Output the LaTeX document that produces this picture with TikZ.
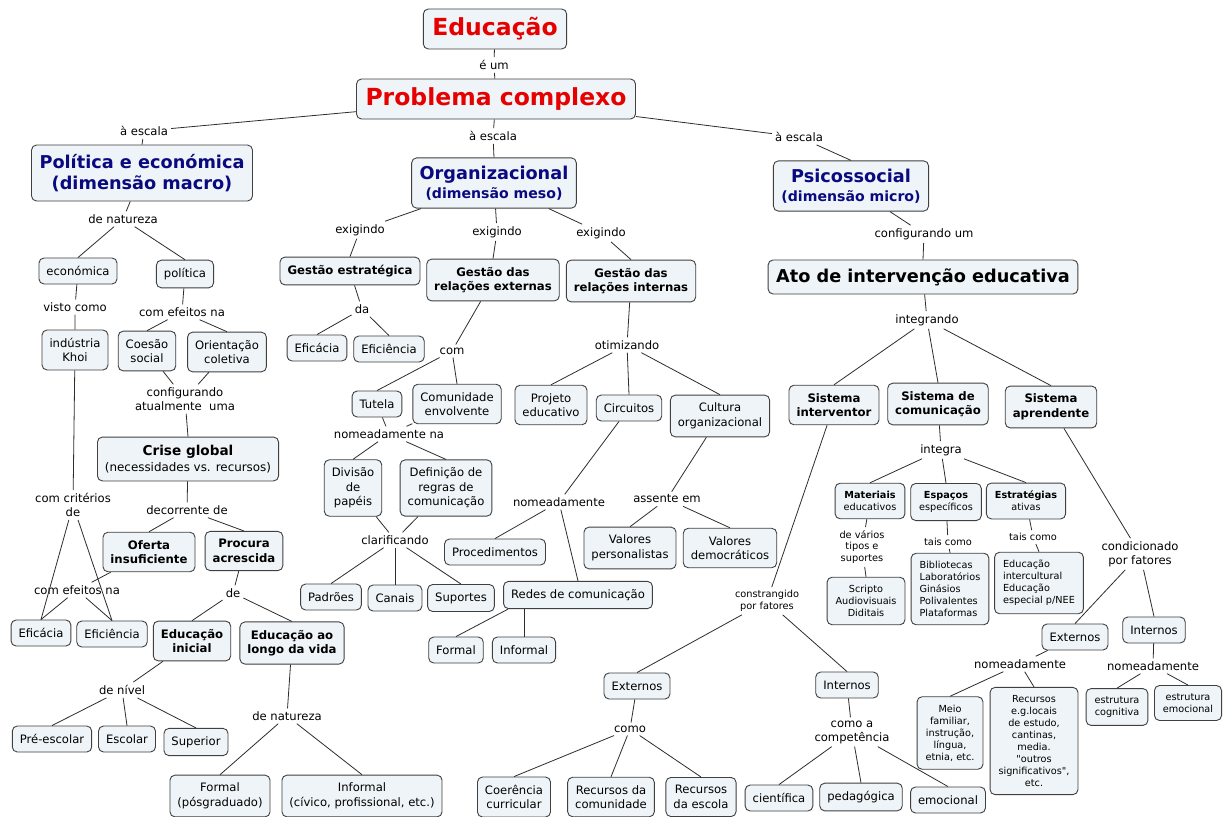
\documentclass[tikz,border=0pt]{standalone}
\usepackage{fontspec}
\setmainfont{DejaVu Sans}[Ligatures=TeXOff]
\definecolor{boxfill}{RGB}{238,244,247}
\definecolor{boxline}{RGB}{64,64,64}
\definecolor{linkgray}{RGB}{45,45,45}
\definecolor{headblue}{RGB}{10,10,128}
\definecolor{topred}{RGB}{230,0,0}
\begin{document}
\begin{tikzpicture}[x=1pt, y=-1pt,
	box/.style = {draw=boxline, fill=boxfill, line width=0.9pt, rounded corners=5pt, align=center, inner xsep=7.5pt, inner ysep=8pt, minimum height=26pt, font=\fontsize{11.6}{14.5}\selectfont},
	bbox/.style = {box, font=\bfseries\fontsize{11.7}{14.5}\selectfont},
	sbox/.style = {box, inner xsep=8.5pt, inner ysep=8pt, font=\fontsize{9.7}{12}\selectfont},
	head/.style = {box, inner xsep=8pt, text=headblue, font=\bfseries\fontsize{17.7}{21.7}\selectfont},
	topbox/.style = {box, inner xsep=9pt, inner ysep=4pt, minimum height=40pt, text=topred, font=\bfseries\fontsize{23.5}{28}\selectfont},
	lab/.style = {inner sep=3pt, align=center, font=\fontsize{11.6}{14}\selectfont},
	slab/.style = {lab, font=\fontsize{9.8}{11.8}\selectfont},
	link/.style = {draw=linkgray, line width=0.8pt}]
	\fill[white] (0,0) rectangle (1230,816);
	\useasboundingbox (0,0) rectangle (1230,816);
	% Conceitos
	\node[topbox] (educ) at (495,29) {Educação};
	\node[lab] (eum) at (494,65) {é um};
	\node[topbox] (prob) at (496,99) {Problema complexo};
	\node[lab] (escL) at (144,131) {à escala};
	\node[lab] (escM) at (493,136) {à escala};
	\node[lab] (escR) at (799,137) {à escala};
	\node[head, minimum height=56pt] (pol) at (142,173) {Política e económica\\(dimensão macro)};
	\node[head, minimum height=50pt, font=\bfseries\fontsize{17.7}{19}\selectfont] (org) at (494,183) {Organizacional\\{\fontsize{14.1}{19}\selectfont(dimensão meso)}};
	\node[head, minimum height=50pt, font=\bfseries\fontsize{17.7}{19}\selectfont] (psi) at (851,186) {Psicossocial\\{\fontsize{14.1}{19}\selectfont(dimensão micro)}};
	% dimensão macro
	\node[lab] (natL) at (123,219) {de natureza};
	\node[box] (econ) at (78,271) {económica};
	\node[box] (poli) at (185,274) {política};
	\node[lab] (visto) at (75,307) {visto como};
	\node[box] (khoi) at (75,350) {indústria\\Khoi};
	\node[lab] (efeitosA) at (182,312) {com efeitos na};
	\node[box] (coesao) at (147,351) {Coesão\\social};
	\node[box] (orient) at (227,352) {Orientação\\coletiva};
	\node[lab] (config) at (185,399) {configurando\\atualmente\ \ uma};
	\node[box, font=\fontsize{11.9}{16}\selectfont] (crise) at (188,459) {{\bfseries\fontsize{13.6}{16}\selectfont Crise global}\\(necessidades vs. recursos)};
	\node[lab] (decor) at (187,510) {decorrente de};
	\node[bbox] (oferta) at (149,552) {Oferta\\insuficiente};
	\node[bbox] (procura) at (244,551) {Procura\\acrescida};
	\node[lab] (criter) at (73,505) {com critérios\\de};
	\node[lab] (efeitosB) at (77,590) {com efeitos na};
	\node[lab] (deA) at (233,593) {de};
	\node[box] (eficaciaA) at (41,633) {Eficácia};
	\node[box] (eficienA) at (112,634) {Eficiência};
	\node[bbox] (einicial) at (192,641) {Educação\\inicial};
	\node[bbox] (elonga) at (292,643) {Educação ao\\longo da vida};
	\node[lab] (nivel) at (122,690) {de nível};
	\node[box] (preesc) at (52,739) {Pré-escolar};
	\node[box] (escolar) at (127,739) {Escolar};
	\node[box] (superior) at (196,742) {Superior};
	\node[lab] (natB) at (287,716) {de natureza};
	\node[box] (formalA) at (220,796) {Formal\\(pósgraduado)};
	\node[box] (informalA) at (362,796) {Informal\\(cívico, profissional, etc.)};
	% dimensão meso
	\node[lab] (exigA) at (360,230) {exigindo};
	\node[lab] (exigB) at (497,232) {exigindo};
	\node[lab] (exigC) at (601,233) {exigindo};
	\node[bbox] (gestest) at (350,271) {Gestão estratégica};
	\node[bbox] (gestext) at (493,280) {Gestão das\\relações externas};
	\node[bbox] (gestint) at (631,281) {Gestão das\\relações internas};
	\node[lab] (da) at (362,309) {da};
	\node[box] (eficaciaB) at (317,348) {Eficácia};
	\node[box] (eficienB) at (389,349) {Eficiência};
	\node[lab] (com) at (452,351) {com};
	\node[box] (tutela) at (377,404) {Tutela};
	\node[box] (comunid) at (457,404) {Comunidade\\envolvente};
	\node[lab] (nomeA) at (389,434) {nomeadamente na};
	\node[box] (divisao) at (353,488) {Divisão\\de\\papéis};
	\node[box] (definic) at (446,488) {Definição de\\regras de\\comunicação};
	\node[lab] (clarif) at (395,540) {clarificando};
	\node[box] (padroes) at (331,597) {Padrões};
	\node[box] (canais) at (395,598) {Canais};
	\node[box] (suportes) at (461,598) {Suportes};
	\node[lab] (otimiz) at (627,345) {otimizando};
	\node[box] (projeto) at (551,405) {Projeto\\educativo};
	\node[box] (circuit) at (629,408) {Circuitos};
	\node[box] (cultura) at (720,416) {Cultura\\organizacional};
	\node[lab] (nomeB) at (559,502) {nomeadamente};
	\node[box] (proced) at (495,552) {Procedimentos};
	\node[box] (redes) at (578,595) {Redes de comunicação};
	\node[box] (formalB) at (456,650) {Formal};
	\node[box] (informalB) at (524,650) {Informal};
	\node[lab] (assente) at (667,499) {assente em};
	\node[box] (valpers) at (630,548) {Valores\\personalistas};
	\node[box] (valdemo) at (730,548) {Valores\\democráticos};
	% dimensão micro
	\node[lab] (configB) at (924,234) {configurando um};
	\node[head, text=black, minimum height=34pt] (ato) at (923,277) {Ato de intervenção educativa};
	\node[lab] (integr) at (927,320) {integrando};
	\node[bbox] (sisint) at (834,405) {Sistema\\interventor};
	\node[bbox] (siscom) at (938,404) {Sistema de\\comunicação};
	\node[bbox] (sisapr) at (1051,407) {Sistema\\aprendente};
	\node[lab] (integra) at (941,450) {integra};
	\node[sbox] (materiais) at (870,501) {\textbf{Materiais}\\educativos};
	\node[sbox] (espacos) at (946,502) {\textbf{Espaços}\\específicos};
	\node[sbox] (estrat) at (1026,501) {\textbf{Estratégias}\\ativas};
	\node[slab] (varios) at (862,547) {de vários\\tipos e\\suportes};
	\node[sbox] (scripto) at (866,601) {Scripto\\Audiovisuais\\Diditais};
	\node[slab] (taisA) at (948,542) {tais como};
	\node[sbox, align=left] (espacosL) at (950,589) {Bibliotecas\\Laboratórios\\Ginásios\\Polivalentes\\Plataformas};
	\node[slab] (taisB) at (1033,537) {tais como};
	\node[sbox, align=left] (educL) at (1039,583) {Educação\\intercultural\\Educação\\especial p/NEE};
	\node[slab] (constr) at (767,601) {constrangido\\por fatores};
	\node[box] (externA) at (637,686) {Externos};
	\node[box] (internA) at (847,685) {Internos};
	\node[lab] (como) at (630,729) {como};
	\node[box] (coerenc) at (514,797) {Coerência\\curricular};
	\node[box] (recomun) at (611,797) {Recursos da\\comunidade};
	\node[box] (recesc) at (701,797) {Recursos\\da escola};
	\node[lab] (comoa) at (852,732) {como a\\competência};
	\node[box] (cientif) at (779,798) {científica};
	\node[box] (pedagog) at (861,797) {pedagógica};
	\node[box] (emocA) at (948,800) {emocional};
	\node[lab] (condic) at (1140,554) {condicionado\\por fatores};
	\node[box] (externB) at (1075,637) {Externos};
	\node[box] (internB) at (1154,630) {Internos};
	\node[lab] (nomeC) at (1020,664) {nomeadamente};
	\node[lab] (nomeD) at (1153,666) {nomeadamente};
	\node[sbox] (meio) at (950,733) {Meio\\familiar,\\instrução,\\língua,\\etnia, etc.};
	\node[sbox] (recursos) at (1034,741) {Recursos\\e.g.locais\\de estudo,\\cantinas,\\media.\\"outros\\significativos",\\etc.};
	\node[sbox] (estcog) at (1117,707) {estrutura\\cognitiva};
	\node[sbox] (estemo) at (1188,703) {estrutura\\emocional};
	% Ligações
	\draw[link] (educ) -- (eum) -- (prob);
	\draw[link] (prob) -- (escL) -- (pol.north);
	\draw[link] (prob) -- (escM) -- (org.north);
	\draw[link] (prob) -- (escR) -- (psi.north);
	% macro
	\draw[link] (pol) -- (natL) -- (econ.north);
	\draw[link] (natL) -- (poli.north);
	\draw[link] (econ) -- (visto) -- (khoi.north);
	\draw[link] (poli) -- (efeitosA) -- (coesao.north);
	\draw[link] (efeitosA) -- (orient.north);
	\draw[link] (coesao) -- (config);
	\draw[link] (orient) -- (config) -- (crise.north);
	\draw[link] (crise) -- (decor) -- (oferta.north);
	\draw[link] (decor) -- (procura.north);
	\draw[link] (khoi) -- (criter) -- (eficaciaA.north);
	\draw[link] (criter) -- (eficienA.north);
	\draw[link] (oferta) -- (efeitosB) -- (eficaciaA.north);
	\draw[link] (efeitosB) -- (eficienA.north);
	\draw[link] (procura) -- (deA) -- (einicial.north);
	\draw[link] (deA) -- (elonga.north);
	\draw[link] (einicial) -- (nivel) -- (preesc.north);
	\draw[link] (nivel) -- (escolar.north);
	\draw[link] (nivel) -- (superior.north);
	\draw[link] (elonga) -- (natB) -- (formalA.north);
	\draw[link] (natB) -- (informalA.north);
	% meso
	\draw[link] (org) -- (exigA) -- (gestest.north);
	\draw[link] (org) -- (exigB) -- (gestext.north);
	\draw[link] (org) -- (exigC) -- (gestint.north);
	\draw[link] (gestest) -- (da) -- (eficaciaB.north);
	\draw[link] (da) -- (eficienB.north);
	\draw[link] (gestext) -- (com) -- (tutela.north);
	\draw[link] (com) -- (comunid.north);
	\draw[link] (tutela) -- (nomeA);
	\draw[link] (comunid) -- (nomeA) -- (divisao.north);
	\draw[link] (nomeA) -- (definic.north);
	\draw[link] (divisao) -- (clarif);
	\draw[link] (definic) -- (clarif) -- (padroes.north);
	\draw[link] (clarif) -- (canais.north);
	\draw[link] (clarif) -- (suportes.north);
	\draw[link] (gestint) -- (otimiz) -- (projeto.north);
	\draw[link] (otimiz) -- (circuit.north);
	\draw[link] (otimiz) -- (cultura.north);
	\draw[link] (circuit) -- (nomeB) -- (proced.north);
	\draw[link] (nomeB) -- (redes.north);
	\draw[link] ([xshift=5pt]redes.south west) -- (formalB.north);
	\draw[link] (redes.south -| informalB.north) -- (informalB.north);
	\draw[link] (cultura) -- (assente) -- (valpers.north);
	\draw[link] (assente) -- (valdemo.north);
	% micro
	\draw[link] (psi) -- (configB) -- (ato.north);
	\draw[link] (ato) -- (integr) -- (sisint.north);
	\draw[link] (integr) -- (siscom.north);
	\draw[link] (integr) -- (sisapr.north);
	\draw[link] (siscom) -- (integra) -- (materiais.north);
	\draw[link] (integra) -- (espacos.north);
	\draw[link] (integra) -- (estrat.north);
	\draw[link] (materiais) -- (varios) -- (scripto.north);
	\draw[link] (espacos) -- (taisA) -- (espacosL.north);
	\draw[link] (estrat) -- (taisB) -- (educL.north);
	\draw[link] (sisint) -- (constr) -- (externA.north);
	\draw[link] (constr) -- (internA.north);
	\draw[link] (externA) -- (como) -- (coerenc.north);
	\draw[link] (como) -- (recomun.north);
	\draw[link] (como) -- (recesc.north);
	\draw[link] (internA) -- (comoa) -- (cientif.north);
	\draw[link] (comoa) -- (pedagog.north);
	\draw[link] (comoa) -- (emocA.north);
	\draw[link] (sisapr) -- (condic) -- (externB.north);
	\draw[link] (condic) -- (internB.north);
	\draw[link] (externB) -- (nomeC) -- (meio.north);
	\draw[link] (nomeC) -- (recursos.north);
	\draw[link] (internB) -- (nomeD) -- (estcog.north);
	\draw[link] (nomeD) -- (estemo.north);
\end{tikzpicture}
\end{document}
